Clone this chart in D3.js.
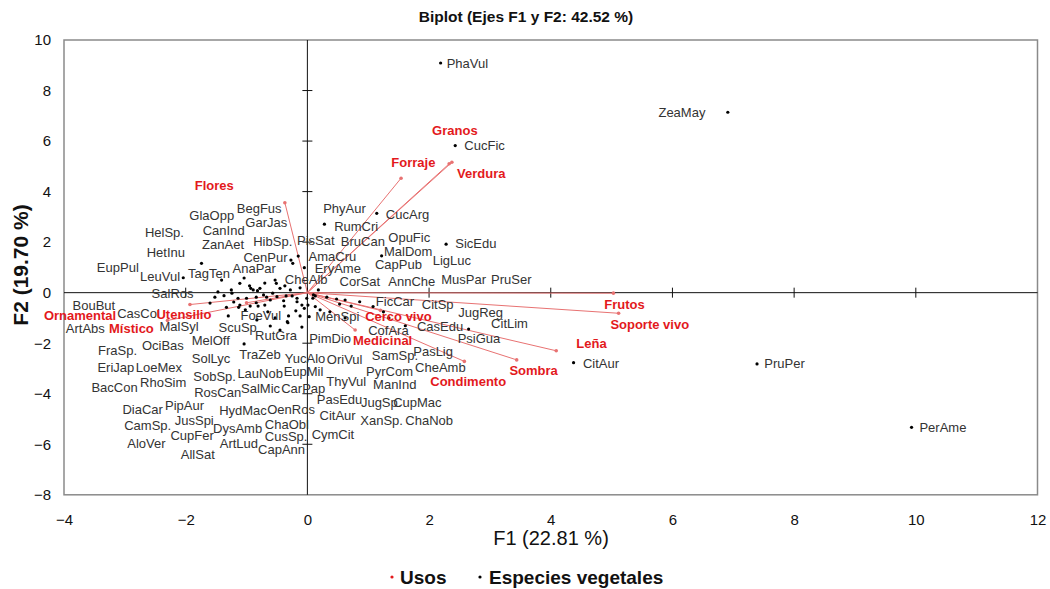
<!DOCTYPE html>
<html><head><meta charset="utf-8">
<script src="https://cdn.jsdelivr.net/npm/d3@7"></script>
<style>body{margin:0;background:#fff} text{font-family:"Liberation Sans",Arial,sans-serif}</style>
</head><body><svg id="c" width="1050" height="589"></svg>
<script>
// ---- Data ----
const chartTitle = "Biplot (Ejes F1 y F2: 42.52 %)";
const xTitle = "F1 (22.81 %)";
const yTitle = "F2 (19.70 %)";
const xTicks = [-4,-2,0,2,4,6,8,10,12];
const yTicks = [-8,-6,-4,-2,0,2,4,6,8,10];

const speciesNames = ["PhaVul","ZeaMay","CucFic","PruPer","PerAme","CitAur","SicEdu","LigLuc","MusPar","PruSer",
"CitLim","JugReg","CitSp","PsiGua","CasEdu","FicCar","CucArg","PhyAur","RumCri","BruCan",
"OpuFic","MalDom","CapPub","AnnChe","CorSat","AmaCru","EryAme","PisSat","CheAlb","HibSp.",
"CenPur","AnaPar","BegFus","GarJas","GlaOpp","CanInd","ZanAet","HelSp.","HetInu","EupPul",
"LeuVul","TagTen","SalRos","BouBut","CasCol","ArtAbs","MalSyl","OciBas","FraSp.","EriJap",
"LoeMex","BacCon","RhoSim","MelOff","SolLyc","SobSp.","RosCan","ScuSp","FoeVul","RutGra",
"TraZeb","LauNob","SalMic","CarPap","YucAlo","EupMil","PimDio","OriVul","ThyVul","PasEdu",
"CitAur","CymCit","MenSpi","CofAra","SamSp.","PasLig","PyrCom","CheAmb","ManInd","JugSp.",
"CupMac","XanSp.","ChaNob","HydMac","OenRos","ChaObl","CusSp.","CapAnn","DysAmb","ArtLud",
"AllSat","CupFer","JusSpi","PipAur","DiaCar","CamSp.","AloVer"];
const speciesF1 = [2.19,6.91,2.43,7.39,9.93,4.375,2.28,1.25,0.86,1.34,
0.72,0.62,0.53,2.65,0.48,1.08,1.14,0.32,0.28,0.13,
0.18,1.22,0.10,0.09,0.13,-0.24,-0.05,-0.15,-0.37,-0.28,
-0.27,-0.53,-0.51,-0.45,-1.41,-1.11,-0.95,-1.25,-1.24,-1.52,
-2.04,-1.74,-1.37,-1.14,-1.00,-1.33,-1.13,-1.11,-0.94,-0.93,
-0.89,-0.82,-0.78,-0.84,-0.84,-0.81,-0.70,-0.83,-0.72,-0.32,
-1.04,-0.67,-0.57,-0.50,-0.39,-0.38,-0.17,-0.17,-0.09,-0.01,
-0.05,0.01,0.03,1.61,-0.31,-0.12,-0.33,-0.12,0.21,0.37,
0.62,-0.19,-0.25,-0.65,-0.53,-0.61,-0.45,-0.09,-1.21,-1.02,
-1.30,-1.60,-1.47,-0.70,-1.04,-0.61,-0.35];
const speciesF2 = [9.09,7.14,5.82,-2.82,-5.33,-2.77,1.92,-0.76,-0.36,-1.00,
-0.53,-0.29,-0.45,-1.44,-0.25,-0.55,3.14,-0.18,2.71,-0.13,
0.11,1.46,-0.09,-0.22,-0.55,1.16,0.99,1.45,0.27,0.11,
1.29,0.50,0.37,0.17,0.50,0.37,0.27,0.11,-0.02,-0.18,
0.59,1.16,-0.12,-0.22,-0.22,-0.58,-0.58,-0.49,-0.53,0.17,
0.11,0.08,0.17,-0.18,-0.40,-0.53,-0.49,-1.08,-0.09,-1.19,
-2.03,-0.18,-0.02,-0.16,-0.32,-0.53,-0.22,-0.36,-0.49,-0.22,
-0.62,-0.49,-0.95,-1.31,-0.92,-0.92,-1.15,0.19,-0.68,-0.76,
-1.00,-0.72,-0.13,-0.76,-1.00,-1.32,-1.48,-1.36,-0.37,-0.68,
-0.92,-0.41,0.03,0.38,0.58,-0.29,-0.13];
const labelF1 = [2.29,5.77,2.58,7.51,10.06,4.53,2.43,2.06,2.20,3.02,
3.02,2.48,1.88,2.47,1.80,1.125,1.29,0.26,0.44,0.55,
1.33,1.26,1.11,1.33,0.53,0.02,0.12,-0.17,-0.37,-0.89,
-1.05,-1.23,-1.16,-1.02,-1.94,-1.72,-1.73,-2.67,-2.64,-3.46,
-2.75,-1.96,-2.56,-3.86,-3.125,-3.97,-2.43,-2.72,-3.44,-3.45,
-2.82,-3.55,-2.75,-1.90,-1.90,-1.875,-1.86,-1.46,-1.10,-0.86,
-1.12,-1.15,-1.09,-0.43,-0.37,-0.39,0.03,0.32,0.31,0.155,
0.20,0.07,0.13,1.00,1.06,1.74,0.965,1.77,1.08,0.88,
1.41,0.87,1.61,-1.45,-0.66,-0.70,-0.70,-0.81,-1.55,-1.44,
-2.08,-2.25,-2.18,-2.34,-3.04,-3.01,-2.96];
const labelF2 = [9.09,7.14,5.82,-2.82,-5.33,-2.79,1.93,1.29,0.52,0.54,
-1.21,-0.79,-0.45,-1.80,-1.32,-0.36,3.10,3.34,2.64,2.02,
2.18,1.65,1.10,0.46,0.44,1.42,0.97,2.06,0.53,2.02,
1.40,0.97,3.34,2.79,3.04,2.45,1.89,2.40,1.61,0.98,
0.66,0.77,-0.05,-0.49,-0.82,-1.41,-1.35,-2.10,-2.27,-2.95,
-2.95,-3.74,-3.56,-1.90,-2.60,-3.32,-3.94,-1.37,-0.92,-1.70,
-2.44,-3.19,-3.81,-3.81,-2.60,-3.13,-1.80,-2.66,-3.52,-4.21,
-4.84,-5.63,-0.95,-1.48,-2.50,-2.33,-3.10,-2.95,-3.65,-4.34,
-4.34,-5.04,-5.07,-4.67,-4.61,-5.21,-5.70,-6.22,-5.37,-5.96,
-6.42,-5.67,-5.04,-4.46,-4.64,-5.24,-5.96];

const usosNames = ["Flores","Forraje","Granos","Verdura","Frutos","Soporte vivo","Leña","Sombra","Condimento","Medicinal","Cerco vivo","Utensilio","Ornamental","Místico"];
const usosF1 = [-0.37,1.54,2.33,2.375,5.03,5.115,4.09,3.44,2.58,0.785,1.20,-1.00,-1.93,-2.30];
const usosF2 = [3.56,4.53,5.10,5.16,-0.02,-0.815,-2.30,-2.66,-2.72,-1.48,-0.70,-0.40,-0.47,-1.10];
const usosLabelF1 = [-1.85,1.38,2.05,2.46,4.88,4.98,4.42,3.32,2.02,0.75,0.95,-2.48,-4.33,-3.26];
const usosLabelF2 = [4.26,5.17,6.41,4.70,-0.45,-1.25,-2.00,-3.09,-3.52,-1.91,-0.95,-0.88,-0.91,-1.41];

const legendItems = ["Usos","Especies vegetales"];

// ---- Drawing ----
const svg = d3.select("#c");
const x = d3.scaleLinear().domain([-4,12]).range([64,1037.5]);
const y = d3.scaleLinear().domain([-8,10]).range([494.8,40]);
const red = "#e3191c", redLine = "#e87272", txt = "#333";

// title
svg.append("text").attr("x",526).attr("y",17).attr("dy","0.35em").attr("text-anchor","middle")
  .attr("font-size",15.5).attr("font-weight","bold").attr("fill","#111").text(chartTitle);

// plot frame
svg.append("rect").attr("x",x(-4)).attr("y",y(10)).attr("width",x(12)-x(-4)).attr("height",y(-8)-y(10))
  .attr("fill","none").attr("stroke","#8a8a8a").attr("stroke-width",1.5);

// tick labels
const ax = svg.append("g").attr("transform",`translate(0,${y(-8)})`)
  .call(d3.axisBottom(x).tickValues(xTicks).tickSize(0).tickPadding(20).tickFormat(d3.format("d")));
const ay = svg.append("g").attr("transform",`translate(${x(-4)},0)`)
  .call(d3.axisLeft(y).tickValues(yTicks).tickSize(0).tickPadding(13).tickFormat(d3.format("d")));
[ax,ay].forEach(g=>{g.select(".domain").remove(); g.selectAll("text").attr("font-size",15).attr("fill","#111")
  .attr("font-family","'Liberation Sans',Arial,sans-serif");});

// zero axes
svg.append("line").attr("x1",x(-4)).attr("x2",x(12)).attr("y1",y(0)).attr("y2",y(0)).attr("stroke","#111").attr("stroke-width",1);
svg.append("line").attr("x1",x(0)).attr("x2",x(0)).attr("y1",y(10)).attr("y2",y(-8)).attr("stroke","#111").attr("stroke-width",1);
svg.selectAll(".xt").data(xTicks.filter(d=>d>-4&&d<12)).enter().append("line")
  .attr("x1",d=>x(d)).attr("x2",d=>x(d)).attr("y1",y(0)-5).attr("y2",y(0)+5).attr("stroke","#111");
svg.selectAll(".yt").data(yTicks.filter(d=>d>-8&&d<10)).enter().append("line")
  .attr("y1",d=>y(d)).attr("y2",d=>y(d)).attr("x1",x(0)-5).attr("x2",x(0)+5).attr("stroke","#111");

// axis titles
svg.append("text").attr("x",551).attr("y",538).attr("dy","0.35em").attr("text-anchor","middle")
  .attr("font-size",20).attr("fill","#111").text(xTitle);
svg.append("text").attr("transform","translate(21,265) rotate(-90)").attr("dy","0.35em").attr("text-anchor","middle")
  .attr("font-size",21).attr("font-weight","bold").attr("fill","#111").text(yTitle);

// usos vectors
const usos = usosNames.map((n,i)=>({n,x:usosF1[i],y:usosF2[i],lx:usosLabelF1[i],ly:usosLabelF2[i]}));
svg.selectAll(".vec").data(usos).enter().append("line")
  .attr("x1",x(0)).attr("y1",y(0)).attr("x2",d=>x(d.x)).attr("y2",d=>y(d.y))
  .attr("stroke",redLine).attr("stroke-width",1);
svg.selectAll(".vend").data(usos).enter().append("circle")
  .attr("cx",d=>x(d.x)).attr("cy",d=>y(d.y)).attr("r",1.8).attr("fill",redLine);

// species points
const sp = speciesNames.map((n,i)=>({n,x:speciesF1[i],y:speciesF2[i],lx:labelF1[i],ly:labelF2[i]}));
svg.selectAll(".pt").data(sp).enter().append("circle")
  .attr("cx",d=>x(d.x)).attr("cy",d=>y(d.y)).attr("r",1.6).attr("fill","#000");
svg.selectAll(".spl").data(sp).enter().append("text")
  .attr("x",d=>x(d.lx)).attr("y",d=>y(d.ly)).attr("dy","0.35em")
  .attr("font-size",13).attr("fill",txt).text(d=>d.n);

// usos labels
svg.selectAll(".ul").data(usos).enter().append("text")
  .attr("x",d=>x(d.lx)).attr("y",d=>y(d.ly)).attr("dy","0.35em")
  .attr("font-size",13).attr("font-weight","bold").attr("fill",red).text(d=>d.n);

// legend
const leg = svg.append("g");
leg.append("circle").attr("cx",392).attr("cy",577).attr("r",1.6).attr("fill",red);
leg.append("text").attr("x",400).attr("y",577).attr("dy","0.35em").attr("font-size",19).attr("font-weight","bold").attr("fill","#111").text(legendItems[0]);
leg.append("circle").attr("cx",480).attr("cy",577).attr("r",1.6).attr("fill","#000");
leg.append("text").attr("x",489).attr("y",577).attr("dy","0.35em").attr("font-size",19).attr("font-weight","bold").attr("fill","#111").text(legendItems[1]);
</script></body></html>
